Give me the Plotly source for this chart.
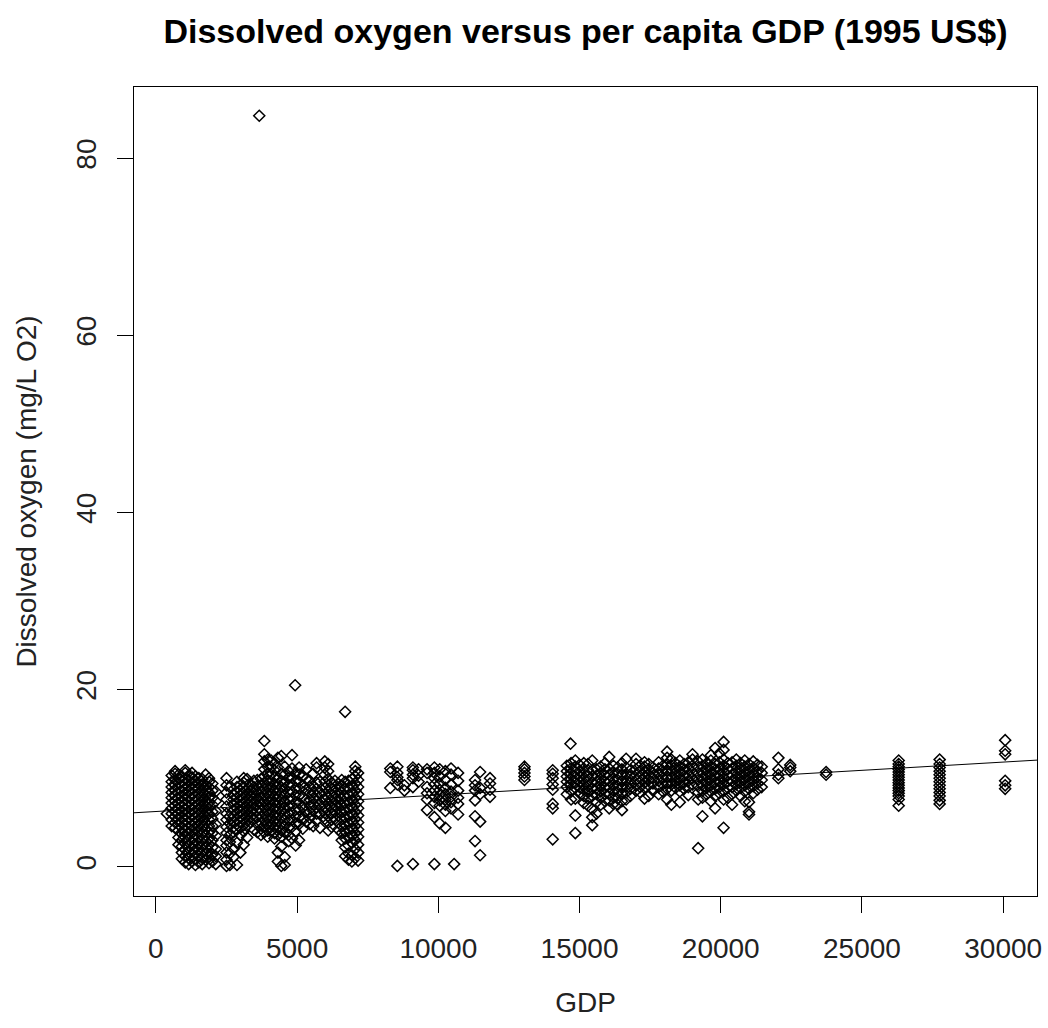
import plotly.graph_objects as go

# ---- data (GDP column -> dissolved oxygen values) ----
col_gdp = [
    390, 560, 680, 800, 920, 1040, 1160, 1280, 1400, 1520, 1640, 1760, 1880, 2000, 2120,
    2500, 2620, 2750, 2870, 2990, 3110, 3230, 3350, 3470, 3590, 3660,
    3720, 3840, 3960, 4080, 4200, 4320, 4440, 4560,
    4700, 4820, 4930, 4950, 5070, 5200, 5320,
    5450, 5570, 5690, 5810,
    5980, 6100, 6220, 6340, 6460, 6580, 6700, 6820, 6940, 7060, 7160,
    8300, 8550, 8800, 9100, 9300,
    9600, 9860, 10050, 10250, 10450, 10560, 10700,
    11300, 11480, 11830, 13050, 14050,
    14550, 14680, 14700, 14850, 15000, 15150, 15300, 15450, 15600, 15750, 15900,
    16050, 16200, 16350, 16500, 16650, 16800, 17000, 17150, 17300, 17450, 17600,
    17800, 17950, 18100, 18250, 18400, 18550, 18700, 18850, 19000,
    19200, 19350, 19500, 19650, 19800, 19950, 20100, 20250, 20400, 20550, 20700,
    20850, 21000, 21150, 21300, 21450,
    22040, 22460, 23730, 26300, 27750, 30070,
]

col_do = [
    [6.0],
    [4.6, 5.3, 6.0, 6.6, 7.2, 7.8, 8.4, 9.0, 9.6, 10.3],
    [4.4, 5.0, 5.7, 6.3, 6.9, 7.4, 8.0, 8.6, 9.2, 9.8, 10.5, 10.8],
    [2.5, 3.3, 4.1, 4.8, 5.4, 6.0, 6.5, 7.1, 7.7, 8.3, 8.8, 9.4, 10.0, 10.4],
    [0.9, 1.6, 2.3, 3.0, 3.7, 4.4, 5.0, 5.6, 6.2, 6.8, 7.3, 7.9, 8.5, 9.1, 9.7, 10.2],
    [0.5, 1.2, 1.9, 2.6, 3.3, 4.0, 4.6, 5.2, 5.8, 6.4, 7.0, 7.6, 8.1, 8.7, 9.3, 9.9, 10.6, 10.9],
    [0.3, 1.0, 1.7, 2.4, 3.1, 3.8, 4.4, 5.0, 5.6, 6.2, 6.8, 7.4, 8.0, 8.6, 9.1, 9.7, 10.3],
    [0.6, 1.3, 2.0, 2.7, 3.4, 4.1, 4.7, 5.3, 5.9, 6.5, 7.1, 7.7, 8.3, 8.9, 9.5, 10.1, 10.6],
    [0.2, 0.9, 1.6, 2.3, 3.0, 3.6, 4.2, 4.9, 5.5, 6.1, 6.7, 7.3, 7.9, 8.5, 9.0, 9.6, 10.2],
    [0.5, 1.2, 1.9, 2.6, 3.3, 4.0, 4.6, 5.2, 5.8, 6.4, 7.0, 7.6, 8.2, 8.8, 9.4, 10.0],
    [0.3, 1.0, 1.7, 2.4, 3.1, 3.8, 4.5, 5.1, 5.7, 6.3, 6.9, 7.5, 8.1, 8.7, 9.3, 9.9],
    [0.8, 1.5, 2.2, 2.9, 3.6, 4.3, 5.0, 5.6, 6.2, 6.8, 7.4, 8.0, 8.6, 9.2, 10.4],
    [0.4, 1.1, 1.8, 2.5, 3.2, 3.9, 4.6, 5.3, 6.0, 6.6, 7.2, 7.8, 8.4, 9.0, 9.6, 10.0],
    [0.6, 1.4, 2.2, 3.0, 3.8, 4.6, 5.4, 6.2, 7.0, 7.8, 8.6, 9.4],
    [0.3, 1.2, 2.0, 3.5, 4.8, 6.3, 7.4, 8.5],
    [0.1, 0.8, 1.6, 2.4, 3.0, 3.8, 4.5, 5.3, 6.0, 6.8, 7.6, 8.4, 9.2, 10.0],
    [0.2, 1.5, 2.8, 3.6, 4.9, 5.7, 9.0],
    [1.1, 2.0, 3.9, 4.5, 5.1, 5.8, 6.4, 7.0, 7.6, 8.2],
    [0.2, 2.7, 4.2, 4.8, 5.4, 6.0, 6.6, 7.2, 7.8, 8.4, 9.0, 9.6],
    [1.6, 3.6, 4.4, 5.0, 5.6, 6.2, 6.8, 7.4, 8.0, 8.6, 9.2],
    [2.5, 4.0, 4.7, 5.3, 5.9, 6.5, 7.1, 7.7, 8.3, 8.9, 9.5, 10.0],
    [3.3, 4.6, 5.2, 5.8, 6.4, 7.0, 7.6, 8.2, 8.8, 9.9],
    [5.0, 5.6, 6.2, 6.8, 7.4, 8.0, 8.6, 9.2],
    [4.2, 5.4, 6.0, 6.6, 7.2, 7.8, 8.4, 9.0, 9.7],
    [3.9, 4.8, 5.6, 6.3, 7.0, 7.7, 8.4, 9.1, 9.8],
    [84.8],
    [3.6, 4.3, 5.0, 5.7, 6.4, 7.1, 7.8, 8.5, 9.2, 9.9],
    [3.9, 4.6, 5.3, 6.0, 6.7, 7.4, 8.1, 8.8, 9.5, 10.2, 11.0, 11.9, 12.7, 14.2],
    [3.4, 4.1, 4.8, 5.5, 6.2, 6.9, 7.6, 8.3, 9.0, 9.7, 10.5, 11.3, 12.1],
    [4.0, 4.7, 5.4, 6.1, 6.8, 7.5, 8.2, 8.9, 9.6, 10.4, 11.2, 12.0],
    [3.2, 3.8, 4.5, 5.2, 5.9, 6.6, 7.3, 8.0, 8.7, 9.4, 10.1, 10.9, 11.7],
    [0.6, 1.6, 3.6, 4.4, 5.1, 5.8, 6.5, 7.2, 7.9, 8.6, 9.3, 10.0, 11.2, 12.3],
    [0.1, 2.3, 3.4, 4.1, 4.8, 5.5, 6.2, 6.9, 7.6, 8.3, 9.0, 9.7, 10.5, 12.5],
    [0.2, 1.1, 3.9, 4.6, 5.3, 6.0, 6.7, 7.4, 8.1, 8.8, 9.5, 10.4, 11.3],
    [2.9, 3.6, 4.4, 5.2, 6.0, 6.8, 7.6, 8.4, 9.2, 10.0, 10.8],
    [3.2, 4.5, 5.3, 6.1, 6.9, 7.7, 8.5, 9.3, 10.1, 11.1, 12.6],
    [20.5],
    [2.4, 4.0, 4.9, 5.7, 6.5, 7.3, 8.1, 8.9, 9.7, 10.6],
    [3.0, 4.8, 5.6, 6.4, 7.2, 8.0, 8.8, 9.6, 10.4, 11.2],
    [4.3, 5.5, 6.7, 7.9, 9.1, 10.3],
    [5.1, 6.2, 7.6, 8.7, 9.9, 11.0],
    [4.8, 5.5, 6.2, 6.9, 7.6, 8.3, 9.0, 9.7],
    [4.6, 6.3, 7.0, 7.7, 8.4, 9.1, 10.5],
    [5.2, 6.0, 6.7, 7.4, 8.1, 8.8, 9.5, 11.2, 11.7],
    [4.4, 5.9, 7.1, 8.4, 9.6],
    [5.4, 6.1, 6.8, 7.5, 8.2, 8.9, 9.6, 10.4, 11.2, 11.9],
    [4.1, 5.0, 5.7, 6.4, 7.1, 7.8, 8.5, 9.2, 9.9, 10.8, 11.6],
    [4.5, 5.3, 6.0, 6.7, 7.4, 8.1, 8.8, 9.5],
    [5.4, 6.2, 6.9, 7.6, 8.3, 9.0, 9.7],
    [4.2, 5.0, 5.8, 6.6, 7.3, 8.0, 8.7, 9.4],
    [3.0, 3.8, 4.6, 5.4, 6.2, 7.0, 7.7, 8.4, 9.1, 9.8],
    [1.2, 2.2, 3.2, 4.0, 4.8, 5.6, 6.4, 7.2, 8.0, 8.8, 9.6, 17.5],
    [0.8, 1.5, 2.4, 3.3, 4.1, 4.9, 5.7, 6.5, 7.3, 8.1, 8.9, 9.7],
    [0.6, 1.3, 2.7, 3.5, 4.3, 5.1, 5.9, 6.7, 7.5, 8.3, 9.1, 9.9],
    [1.0, 2.0, 3.0, 3.8, 4.6, 5.4, 6.2, 7.0, 7.8, 8.6, 9.4, 10.2, 10.8, 11.3],
    [0.7, 1.6, 2.5, 3.4, 4.2, 5.0, 5.8, 6.6, 7.4, 8.2, 9.0, 9.8, 10.6],
    [8.9, 10.7, 11.1],
    [0.1, 9.3, 9.8, 10.1, 10.6, 11.3],
    [8.6, 9.2],
    [0.3, 9.0, 10.0, 10.4, 10.9, 11.2],
    [9.6, 10.3, 11.0],
    [6.4, 7.6, 8.3, 9.0, 10.6, 11.0],
    [0.3, 5.6, 7.2, 7.9, 8.6, 9.3, 10.0, 10.6, 11.2],
    [4.9, 6.9, 7.5, 8.1, 8.7, 9.4, 10.2, 11.0],
    [4.4, 6.3, 7.0, 7.6, 8.2, 8.9, 9.8, 10.8],
    [6.6, 7.3, 7.9, 8.5, 9.3, 10.4, 11.1],
    [0.3],
    [5.9, 7.1, 7.8, 8.6, 9.7, 10.6],
    [2.9, 5.7, 7.5, 8.6, 9.2, 9.8],
    [1.3, 5.1, 8.2, 8.9, 10.7],
    [7.9, 8.7, 9.4, 10.0],
    [9.8, 10.2, 10.6, 11.0, 11.3],
    [3.1, 6.6, 7.1, 8.7, 9.3, 10.0, 10.5, 10.9],
    [8.2, 9.0, 9.6, 10.2, 10.8, 11.4],
    [13.9],
    [7.6, 8.6, 9.3, 9.9, 10.5, 11.1, 11.7],
    [3.8, 5.8, 7.7, 8.9, 9.5, 10.1, 10.7, 11.3, 12.0],
    [8.3, 9.0, 9.6, 10.2, 10.8, 11.5],
    [7.2, 8.0, 8.7, 9.3, 9.9, 10.5, 11.1, 11.7],
    [6.9, 7.7, 8.4, 9.1, 9.7, 10.3, 10.9, 11.6],
    [4.7, 5.6, 6.5, 8.0, 8.8, 9.5, 10.2, 10.9, 12.0],
    [6.0, 7.3, 8.2, 8.9, 9.6, 10.3, 11.0],
    [7.0, 7.8, 8.5, 9.2, 9.9, 10.6, 11.3],
    [7.4, 8.2, 8.9, 9.6, 10.3, 11.0, 11.7],
    [6.6, 7.5, 8.3, 9.0, 9.7, 10.4, 11.1, 12.4],
    [7.1, 7.9, 8.6, 9.3, 10.0, 10.7, 11.4],
    [7.0, 7.7, 8.4, 9.1, 9.8, 10.5, 11.2],
    [6.4, 7.4, 8.2, 8.9, 9.6, 10.3, 11.0, 11.7],
    [7.6, 8.4, 9.1, 9.8, 10.5, 11.2, 12.2],
    [8.0, 8.8, 9.5, 10.2, 10.9],
    [8.6, 9.2, 9.8, 10.4, 11.0, 11.6, 12.2],
    [8.4, 9.0, 9.6, 10.2, 10.8, 11.4],
    [7.7, 8.9, 9.5, 10.1, 10.7, 11.3, 11.8],
    [8.0, 9.2, 9.8, 10.4, 11.0, 11.6],
    [8.6, 9.4, 10.0, 10.6, 11.2],
    [8.2, 9.0, 9.7, 10.4, 11.1, 11.8],
    [8.5, 9.3, 10.0, 10.7, 11.4],
    [7.6, 8.8, 9.5, 10.2, 10.9, 11.6, 12.3, 13.0],
    [7.0, 8.6, 9.3, 10.0, 10.7, 11.4, 12.1],
    [8.9, 9.6, 10.3, 11.0, 11.7],
    [7.3, 8.5, 9.2, 9.9, 10.6, 11.3, 12.0],
    [8.8, 9.5, 10.2, 10.9, 11.6],
    [8.1, 9.0, 9.7, 10.4, 11.1, 11.8],
    [9.3, 10.0, 10.7, 11.4, 12.1, 12.7],
    [2.1, 7.6, 8.4, 9.1, 9.8, 10.5, 11.2, 11.9],
    [5.7, 7.8, 8.6, 9.3, 10.0, 10.7, 11.4, 12.1],
    [8.2, 8.9, 9.6, 10.3, 11.0, 11.7],
    [7.4, 8.5, 9.2, 9.9, 10.6, 11.3, 12.0, 12.6],
    [6.6, 8.0, 8.8, 9.5, 10.2, 10.9, 11.6, 13.4],
    [8.3, 9.0, 9.7, 10.4, 11.1, 11.8, 12.8],
    [4.4, 7.6, 8.6, 9.3, 10.0, 10.7, 11.4, 12.1, 13.2, 14.1],
    [7.8, 8.9, 9.6, 10.3, 11.0, 11.7],
    [7.0, 8.2, 9.0, 9.7, 10.4, 11.1, 11.8],
    [8.6, 9.3, 10.0, 10.7, 11.4, 12.1],
    [8.0, 8.9, 9.6, 10.3, 11.0, 11.7],
    [7.4, 8.5, 9.2, 9.9, 10.6, 11.3, 12.0],
    [5.9, 6.2, 7.3, 8.8, 9.5, 10.2, 10.9, 11.6],
    [8.3, 9.1, 9.8, 10.5, 11.2, 11.9],
    [8.7, 9.4, 10.1, 10.8, 11.5],
    [9.0, 9.8, 10.6, 11.3],
    [10.0, 10.4, 11.0, 12.3],
    [10.8, 11.2, 11.5],
    [10.4, 10.7],
    [6.9, 7.6, 8.0, 8.3, 8.6, 8.9, 9.2, 9.5, 9.8, 10.1, 10.4, 10.7, 11.0, 11.3, 11.6, 12.0],
    [7.1, 7.5, 8.0, 8.4, 8.8, 9.2, 9.6, 10.0, 10.4, 10.8, 11.2, 11.6, 12.1],
    [8.8, 9.2, 9.7, 12.7, 13.1, 14.3],
]

# fitted line: DO = intercept + slope * GDP
fit_intercept = 6.24
fit_slope = 0.000186

x_ticks = [0, 5000, 10000, 15000, 20000, 25000, 30000]
y_ticks = [0, 20, 40, 60, 80]
x_range = [-775, 31197]
y_range = [-3.30, 88.05]

# ---- expand columns into points ----
gdp_pts, do_pts = [], []
for g, vals in zip(col_gdp, col_do):
    for v in vals:
        gdp_pts.append(g)
        do_pts.append(v)

FONT = "Liberation Sans, Arial, Helvetica, sans-serif"
TXT = "#222"

W, H = 1048, 1028

fig = go.Figure()
fig.add_trace(go.Scatter(
    x=gdp_pts, y=do_pts, mode="markers",
    marker=dict(symbol="diamond-open", size=8.5, color="black",
                line=dict(width=1.5, color="black")),
    showlegend=False, hoverinfo="x+y",
))
fig.add_trace(go.Scatter(
    x=x_range,
    y=[fit_intercept + fit_slope * x_range[0], fit_intercept + fit_slope * x_range[1]],
    mode="lines", line=dict(color="black", width=1),
    showlegend=False, hoverinfo="skip",
))

fig.update_layout(
    width=W, height=H,
    margin=dict(l=134, r=6, t=87, b=132),
    paper_bgcolor="white", plot_bgcolor="white",
    font=dict(family=FONT, size=28, color=TXT),
    title=dict(
        text="<b>Dissolved oxygen versus per capita GDP (1995 US$)</b>",
        font=dict(family=FONT, size=34, color="black"),
        x=0.5, xref="paper", xanchor="center",
        y=1 - 31 / H, yref="container", yanchor="middle",
    ),
    xaxis=dict(
        range=x_range, tickmode="array", tickvals=x_ticks,
        ticktext=[str(t) for t in x_ticks],
        ticks="outside", ticklen=16, tickwidth=1, tickcolor="black",
        showline=True, linecolor="black", linewidth=1, mirror=True,
        showgrid=False, zeroline=False,
        tickfont=dict(family=FONT, size=28, color=TXT),
        ticklabelstandoff=11, ticklabeloverflow="allow",
        title=dict(text="GDP", font=dict(family=FONT, size=28, color=TXT), standoff=29),
    ),
    yaxis=dict(
        range=y_range, tickmode="array", tickvals=y_ticks,
        ticktext=[str(t) for t in y_ticks],
        ticks="outside", ticklen=16, tickwidth=1, tickcolor="black",
        showline=True, linecolor="black", linewidth=1, mirror=True,
        showgrid=False, zeroline=False, tickangle=-90,
        tickfont=dict(family=FONT, size=28, color=TXT),
        ticklabelstandoff=10, ticklabeloverflow="allow",
        title=dict(text="Dissolved oxygen (mg/L O2)", font=dict(family=FONT, size=28, color=TXT), standoff=25),
    ),
)

# remove the page's default 8px body margin so the figure fills the window exactly
fig.write_html(
    "out.html",
    config={"displayModeBar": False},
    post_script="document.body.style.margin='0';document.body.style.overflow='hidden';",
)
